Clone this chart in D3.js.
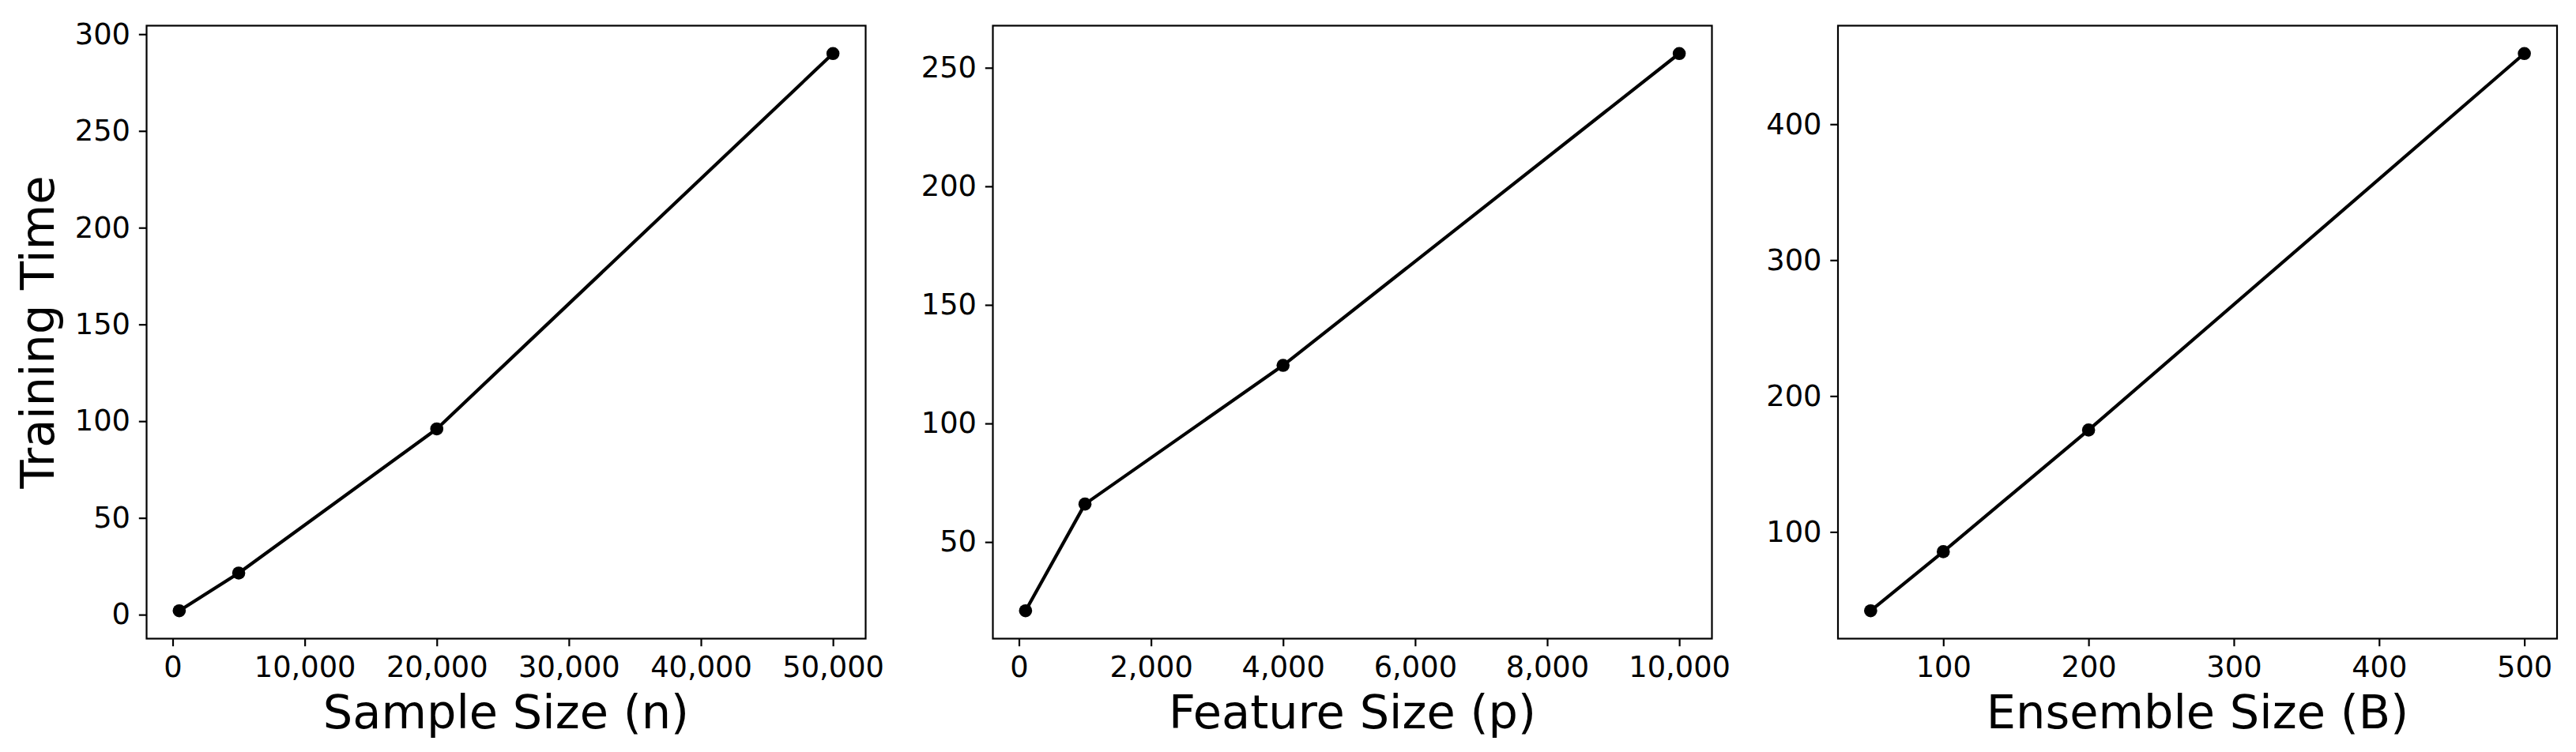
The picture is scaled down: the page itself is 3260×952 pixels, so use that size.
<!DOCTYPE html>
<html>
<head>
<meta charset="utf-8">
<script src="https://cdn.jsdelivr.net/npm/d3@7"></script>
<style>
  html, body { margin: 0; padding: 0; background: #fff; }
  svg { display: block; }
  text { font-family: "DejaVu Sans", sans-serif; fill: #000; }
</style>
</head>
<body>
<svg id="chart" width="3260" height="952"></svg>
<script>
// ---- Data ----
const sampleSizes = [500, 5000, 20000, 50000];
const sampleTimes = [2, 21.5, 96, 290];
const sampleXTicks = [0, 10000, 20000, 30000, 40000, 50000];
const sampleYTicks = [0, 50, 100, 150, 200, 250, 300];

const featureSizes = [100, 1000, 4000, 10000];
const featureTimes = [21, 66, 124.5, 256];
const featureXTicks = [0, 2000, 4000, 6000, 8000, 10000];
const featureYTicks = [50, 100, 150, 200, 250];

const ensembleSizes = [50, 100, 200, 500];
const ensembleTimes = [42, 85.5, 175, 452];
const ensembleXTicks = [100, 200, 300, 400, 500];
const ensembleYTicks = [100, 200, 300, 400];

const xLabels = ["Sample Size (n)", "Feature Size (p)", "Ensemble Size (B)"];
const yLabel = "Training Time";

// ---- Layout ----
const panels = [
  { left: 185.5, xs: sampleSizes, ys: sampleTimes, xt: sampleXTicks, yt: sampleYTicks, xl: xLabels[0] },
  { left: 1256.5, xs: featureSizes, ys: featureTimes, xt: featureXTicks, yt: featureYTicks, xl: xLabels[1] },
  { left: 2326, xs: ensembleSizes, ys: ensembleTimes, xt: ensembleXTicks, yt: ensembleYTicks, xl: xLabels[2] }
];
const plotTop = 32.5, plotBottom = 808.5, pw = 910;
const tickLen = 9.7, tickFont = 36.8, labelFont = 59;
const fmt = d3.format(",");

function padded(vals) {
  const [a, b] = d3.extent(vals);
  const m = (b - a) * 0.05;
  return [a - m, b + m];
}

const svg = d3.select("#chart");

panels.forEach((p, i) => {
  const x = d3.scaleLinear().domain(padded(p.xs)).range([p.left, p.left + pw]);
  const y = d3.scaleLinear().domain(padded(p.ys)).range([plotBottom, plotTop]);
  const g = svg.append("g");

  // x axis
  const xa = g.append("g").attr("transform", `translate(0,${plotBottom})`)
    .call(d3.axisBottom(x).tickValues(p.xt).tickFormat(fmt).tickSize(tickLen).tickPadding(12.5));
  xa.select(".domain").remove();
  xa.selectAll("line").attr("stroke", "#000").attr("stroke-width", 2.2);
  xa.selectAll("text").attr("font-size", tickFont).attr("font-family", "DejaVu Sans").attr("fill", "#000");

  // y axis
  const ya = g.append("g").attr("transform", `translate(${p.left},0)`)
    .call(d3.axisLeft(y).tickValues(p.yt).tickFormat(fmt).tickSize(tickLen).tickPadding(10.8));
  ya.select(".domain").remove();
  ya.selectAll("line").attr("stroke", "#000").attr("stroke-width", 2.2);
  ya.selectAll("text").attr("font-size", tickFont).attr("font-family", "DejaVu Sans").attr("fill", "#000");

  // frame
  g.append("rect").attr("x", p.left).attr("y", plotTop).attr("width", pw).attr("height", plotBottom - plotTop)
    .attr("fill", "none").attr("stroke", "#000").attr("stroke-width", 2.2);

  // line + markers
  const pts = p.xs.map((v, k) => [v, p.ys[k]]);
  g.append("path").datum(pts)
    .attr("d", d3.line().x(d => x(d[0])).y(d => y(d[1])))
    .attr("fill", "none").attr("stroke", "#000").attr("stroke-width", 4.2).attr("stroke-linejoin", "round");
  g.selectAll("circle.pt").data(pts).enter().append("circle")
    .attr("cx", d => x(d[0])).attr("cy", d => y(d[1])).attr("r", 8.3).attr("fill", "#000");

  // x label
  g.append("text").attr("x", p.left + pw / 2).attr("y", 922).attr("text-anchor", "middle")
    .attr("font-size", labelFont).text(p.xl);

  if (i === 0) {
    g.append("text").attr("transform", `translate(68,${(plotTop + plotBottom) / 2}) rotate(-90)`)
      .attr("text-anchor", "middle").attr("font-size", labelFont).text(yLabel);
  }
});
</script>
</body>
</html>
